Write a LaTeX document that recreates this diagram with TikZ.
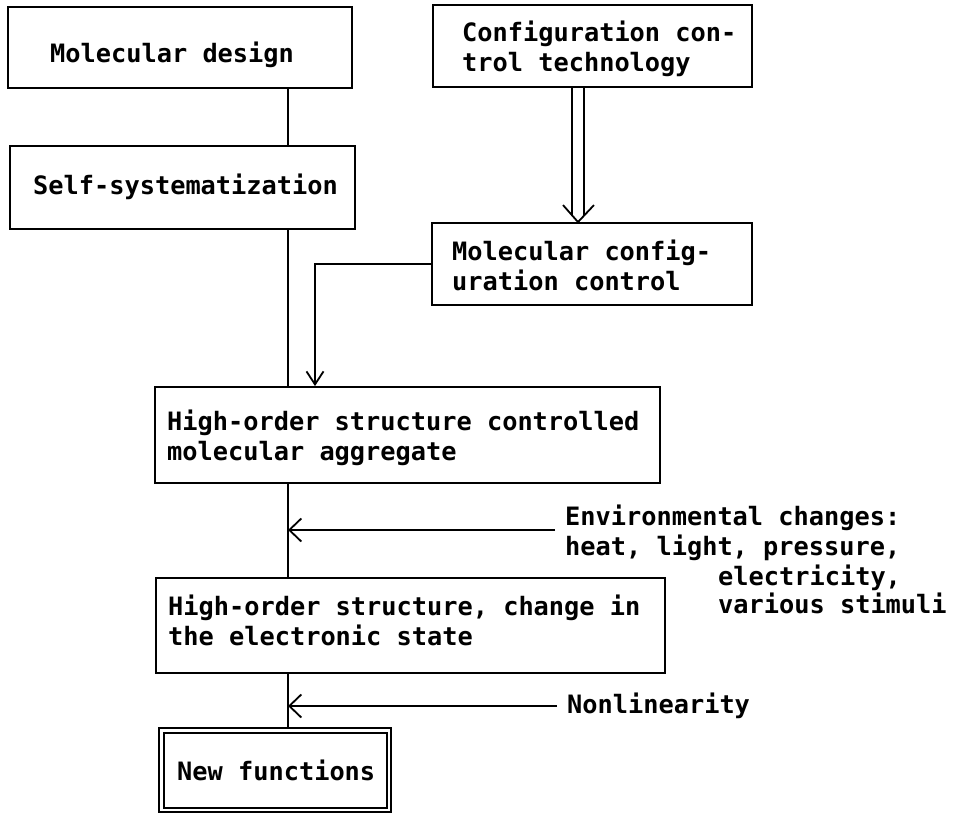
\documentclass[tikz,border=0pt]{standalone}
\usepackage{fontspec}
\newfontfamily\plotfont{DejaVu Sans Mono}
\usetikzlibrary{arrows.meta,calc}
\begin{document}
\begin{tikzpicture}[x=1pt,y=-1pt,
  boxs/.style={draw, line width=1.9pt, inner sep=0pt, rectangle},
  txt/.style={anchor=base west, inner sep=0pt, font=\plotfont\bfseries\fontsize{25.3}{30}\selectfont},
  conn/.style={line width=1.8pt},
  arrh/.style={conn, -{Straight Barb[length=12pt,width=23pt]}},
  arrv/.style={conn, -{Straight Barb[length=13pt,width=17pt]}},
]
\useasboundingbox (0,0) rectangle (953,813);
% boxes
\node[boxs, minimum width=344pt, minimum height=81pt] (md) at (180,47.5) {};
\node[boxs, minimum width=345pt, minimum height=83pt] (ss) at (182.5,187.5) {};
\node[boxs, minimum width=319pt, minimum height=82pt] (ct) at (592.5,46) {};
\node[boxs, minimum width=320pt, minimum height=82pt] (mc) at (592,264) {};
\node[boxs, minimum width=505pt, minimum height=96pt] (ha) at (407.5,435) {};
\node[boxs, minimum width=509pt, minimum height=95pt] (hc) at (410.5,625.5) {};
\node[boxs, line width=1.8pt, double, double distance=2.6pt, minimum width=227.5pt, minimum height=79.5pt] (nf) at (275.25,770.25) {};
% texts
\node[txt] (t-md) at (50,63) {Molecular design};
\node[txt] (t-ss) at (33,195) {Self-systematization};
\node[txt] (t-ct1) at (462,42) {Configuration con-};
\node[txt] (t-ct2) at (462,72) {trol technology};
\node[txt] (t-mc1) at (452,260) {Molecular config-};
\node[txt] (t-mc2) at (452,290) {uration control};
\node[txt] (t-ha1) at (167,430) {High-order structure controlled};
\node[txt] (t-ha2) at (167,460) {molecular aggregate};
\node[txt] (t-hc1) at (168,615) {High-order structure, change in};
\node[txt] (t-hc2) at (168,645) {the electronic state};
\node[txt] (t-nf) at (177,780) {New functions};
\node[txt] (t-env1) at (565,525) {Environmental changes:};
\node[txt] (t-env2) at (565,555) {heat, light, pressure,};
\node[txt] (t-env3) at (718,585) {electricity,};
\node[txt] (t-env4) at (718,613) {various stimuli};
\node[txt] (t-nl) at (567,713) {Nonlinearity};
% spine
\coordinate (spine) at (288,0);
\draw[conn] (spine |- md.south) -- (spine |- ss.north);
\draw[conn] (spine |- ss.south) -- (spine |- ha.north);
\draw[conn] (spine |- ha.south) -- (spine |- hc.north);
\draw[conn, shorten >=2.4pt] (spine |- hc.south) -- (spine |- nf.north);
% side arrows
\coordinate (envs) at (555,530);
\draw[arrh] (envs) -- (envs -| spine);
\coordinate (nls) at (557,706);
\draw[arrh] (nls) -- (nls -| spine);
\coordinate (mcx) at (315,0);
\draw[arrv] (mc.west) -| (mcx |- ha.north);
% double arrow
\coordinate (dl) at (578,0);
\draw[conn] ($(dl |- ct.south)+(-6,0)$) -- ($(dl |- mc.north)+(-6,-7)$);
\draw[conn] ($(dl |- ct.south)+(6,0)$) -- ($(dl |- mc.north)+(6,-7)$);
\draw[conn] ($(dl |- mc.north)+(-15,-17)$) -- (dl |- mc.north) -- ($(dl |- mc.north)+(16,-17)$);
\end{tikzpicture}
\end{document}
